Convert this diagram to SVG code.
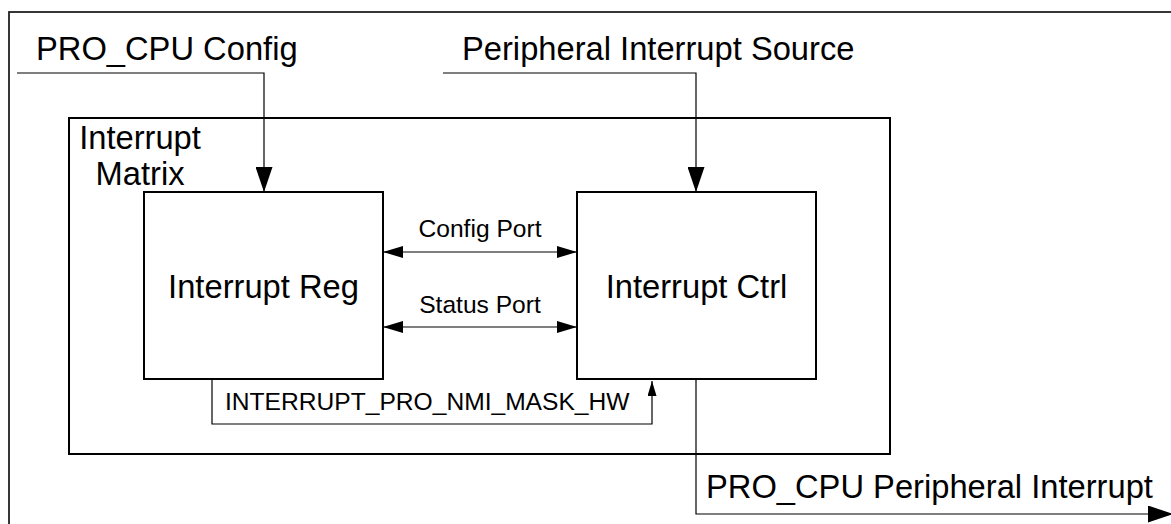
<svg xmlns="http://www.w3.org/2000/svg" width="1171" height="524" viewBox="0 0 1171 524">
<style>
.box{fill:#fff;stroke:#000;stroke-width:2}
.frame{fill:#fff;stroke:#222;stroke-width:1.8}
.conn{fill:none;stroke:#000;stroke-width:1.2}
.big{font-family:"Liberation Sans",Arial,sans-serif;font-size:32.7px;fill:#000}
.small{font-family:"Liberation Sans",Arial,sans-serif;font-size:24.6px;fill:#000}
</style>
<defs>
<marker id="ahBig" markerUnits="userSpaceOnUse" markerWidth="25" markerHeight="17" refX="25" refY="8.5" orient="auto"><path d="M0,0 L25,8.5 L0,17 z" fill="#000"/></marker>
<marker id="ahPort" markerUnits="userSpaceOnUse" markerWidth="20" markerHeight="12" refX="20" refY="6" orient="auto-start-reverse"><path d="M0,0 L20,6 L0,12 z" fill="#000"/></marker>
<marker id="ahSmall" markerUnits="userSpaceOnUse" markerWidth="15" markerHeight="9" refX="15" refY="4.5" orient="auto"><path d="M0,0 L15,4.5 L0,9 z" fill="#000"/></marker>
</defs>
<rect class="frame" x="9" y="12" width="1200" height="560"/>
<g id="matrix">
<rect class="box" x="69" y="118" width="821" height="336"/>
<text class="big" text-anchor="middle"><tspan x="140" y="149">Interrupt</tspan><tspan x="140" y="185">Matrix</tspan></text>
</g>
<g id="reg">
<rect class="box" x="144" y="192" width="239" height="187"/>
<text class="big" x="263.5" y="298" text-anchor="middle">Interrupt Reg</text>
</g>
<g id="ctrl">
<rect class="box" x="577" y="192" width="239" height="187"/>
<text class="big" x="696.5" y="298" text-anchor="middle">Interrupt Ctrl</text>
</g>
<g id="connectors">
<path class="conn" d="M17,73 H264 V192" marker-end="url(#ahBig)"/>
<text class="big" x="36" y="60">PRO_CPU Config</text>
<path class="conn" d="M443,73 H696 V192" marker-end="url(#ahBig)"/>
<text class="big" x="462" y="60">Peripheral Interrupt Source</text>
<path class="conn" d="M383,252 H577" marker-start="url(#ahPort)" marker-end="url(#ahPort)"/>
<text class="small" x="480" y="237" text-anchor="middle">Config Port</text>
<path class="conn" d="M383,327 H577" marker-start="url(#ahPort)" marker-end="url(#ahPort)"/>
<text class="small" x="480" y="313" text-anchor="middle">Status Port</text>
<path class="conn" d="M212,379 V424 H652 V381" marker-end="url(#ahSmall)"/>
<text class="small" x="225" y="410">INTERRUPT_PRO_NMI_MASK_HW</text>
<path class="conn" d="M696,379 V514 H1173" marker-end="url(#ahBig)"/>
<text class="big" x="706" y="498">PRO_CPU Peripheral Interrupt</text>
</g>
</svg>
